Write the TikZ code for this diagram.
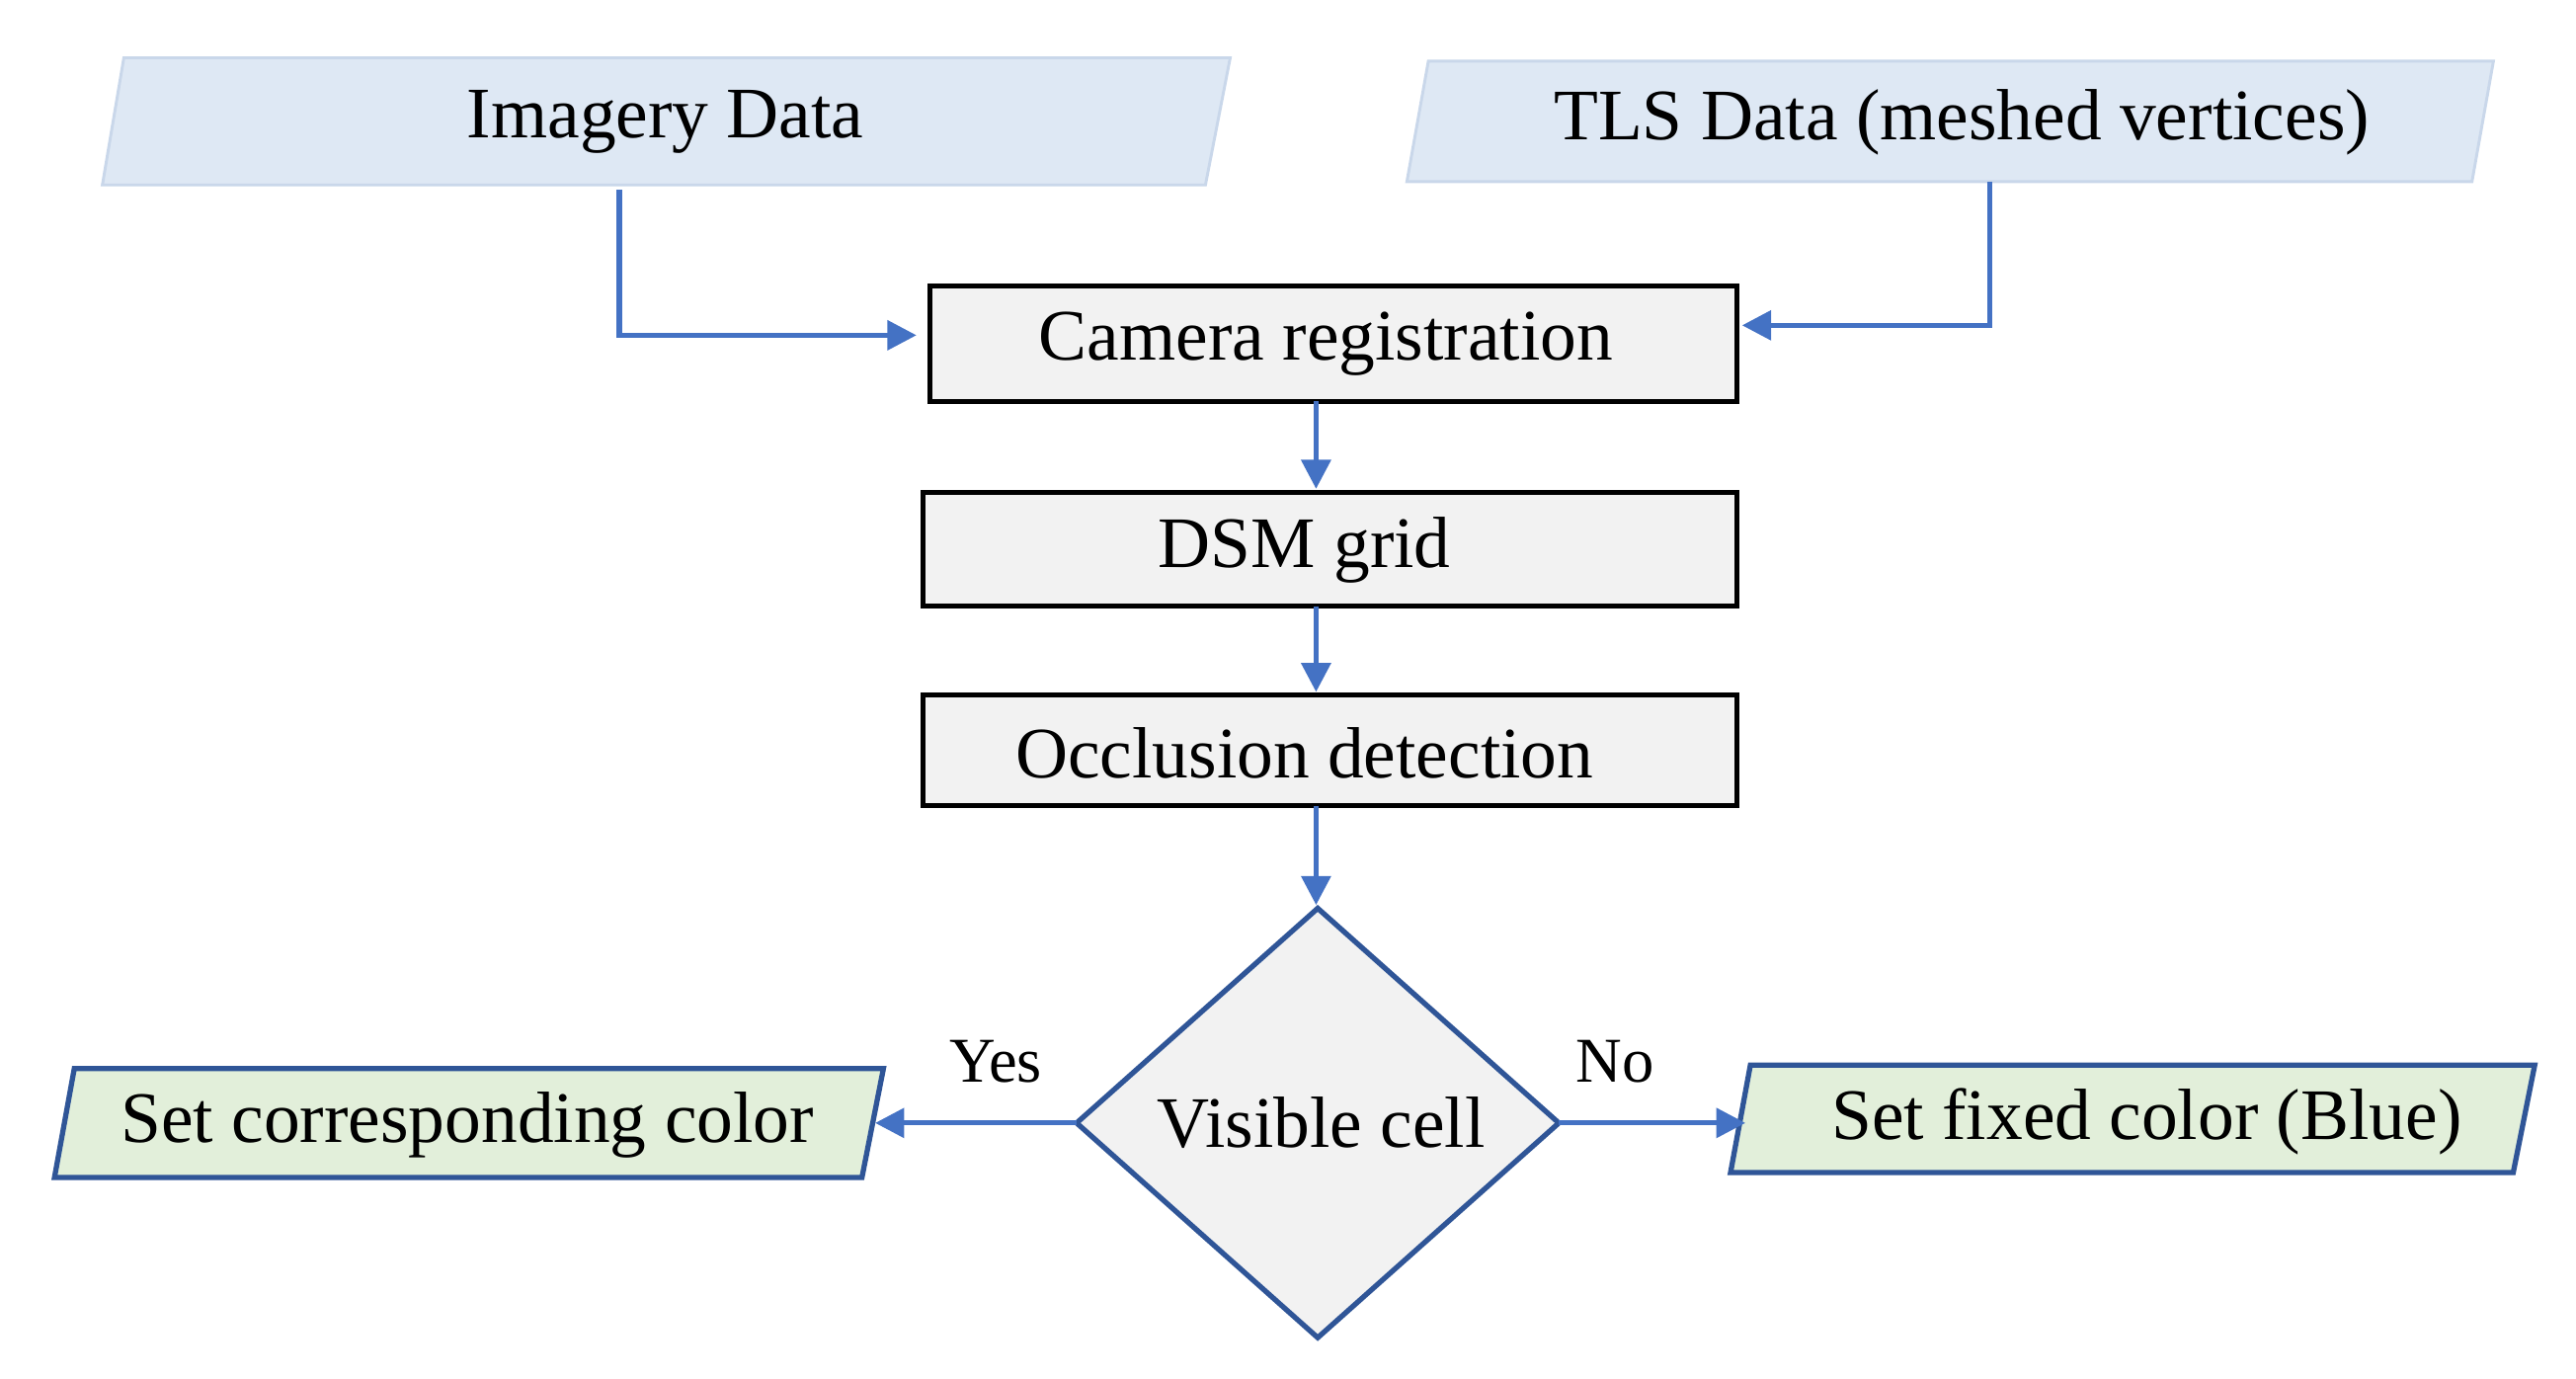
\documentclass[tikz,border=0pt]{standalone}
\usepackage{fontspec}
\setmainfont{Liberation Serif}
\usetikzlibrary{arrows.meta,shapes.geometric}
\definecolor{inblue}{HTML}{DEE8F4}
\definecolor{inedge}{HTML}{C9D7EA}
\definecolor{outgreen}{HTML}{E2EFDA}
\definecolor{darkb}{HTML}{2F5597}
\definecolor{arrb}{HTML}{4472C4}
\definecolor{boxg}{HTML}{F2F2F2}
\tikzset{
  arr/.style={draw=arrb,line width=1.8pt,-{Triangle[length=10pt,width=10pt]}},
  txt/.style={font=\fontsize{25}{30}\selectfont},
  box/.style={draw=black,fill=boxg,line width=1.8pt},
  inp/.style={fill=inblue,draw=inedge,line width=1pt},
  outp/.style={fill=outgreen,draw=darkb,line width=1.8pt},
}
\begin{document}
\begin{tikzpicture}[x=0.02cm,y=-0.02cm]
\useasboundingbox (0,0) rectangle (1560,835);
% inputs
\draw[inp] (75,35)--(745,35)--(730,112)--(62,112)--cycle;
\node[txt] (img) at (403,74) {Imagery Data};
\draw[inp] (865,37)--(1510,37)--(1497,110)--(852,110)--cycle;
\node[txt] (tls) at (1188,74) {TLS Data (meshed vertices)};
% boxes
\draw[box] (563,173) rectangle (1052,243);
\node[txt] (cam) at (803,208) {Camera registration};
\draw[box] (559,298) rectangle (1052,367);
\node[txt] (dsm) at (790,333) {DSM grid};
\draw[box] (559,421) rectangle (1052,488);
\node[txt] (occ) at (790,456) {Occlusion detection};
% diamond
\draw[fill=boxg,draw=darkb,line width=1.8pt] (798,550)--(944,680)--(798,810)--(652,680)--cycle;
\node[txt] (vis) at (800,680) {Visible cell};
% outputs
\draw[outp] (45,647)--(535,647)--(522,713)--(33,713)--cycle;
\node[txt] (set1) at (283,681) {Set corresponding color};
\draw[outp] (1060,645)--(1535,645)--(1522,710)--(1048,710)--cycle;
\node[txt] (set2) at (1300,679) {Set fixed color (Blue)};
% coordinates
\coordinate (a1) at (375,115);
\coordinate (a2) at (555,203);
\coordinate (b1) at (1205,110);
\coordinate (b2) at (1055,197);
\draw[arr] (a1) |- (a2);
\draw[arr] (b1) |- (b2);
\draw[arr] (797,243) -- (797,296);
\draw[arr] (797,367) -- (797,419);
\draw[arr] (797,488) -- (797,548);
\draw[arr] (652,680) -- (530,680);
\draw[arr] (944,680) -- (1057,680);
\node[font=\fontsize{22}{26}\selectfont] (yes) at (603,643) {Yes};
\node[font=\fontsize{22}{26}\selectfont] (no) at (978,643) {No};
\end{tikzpicture}
\end{document}
